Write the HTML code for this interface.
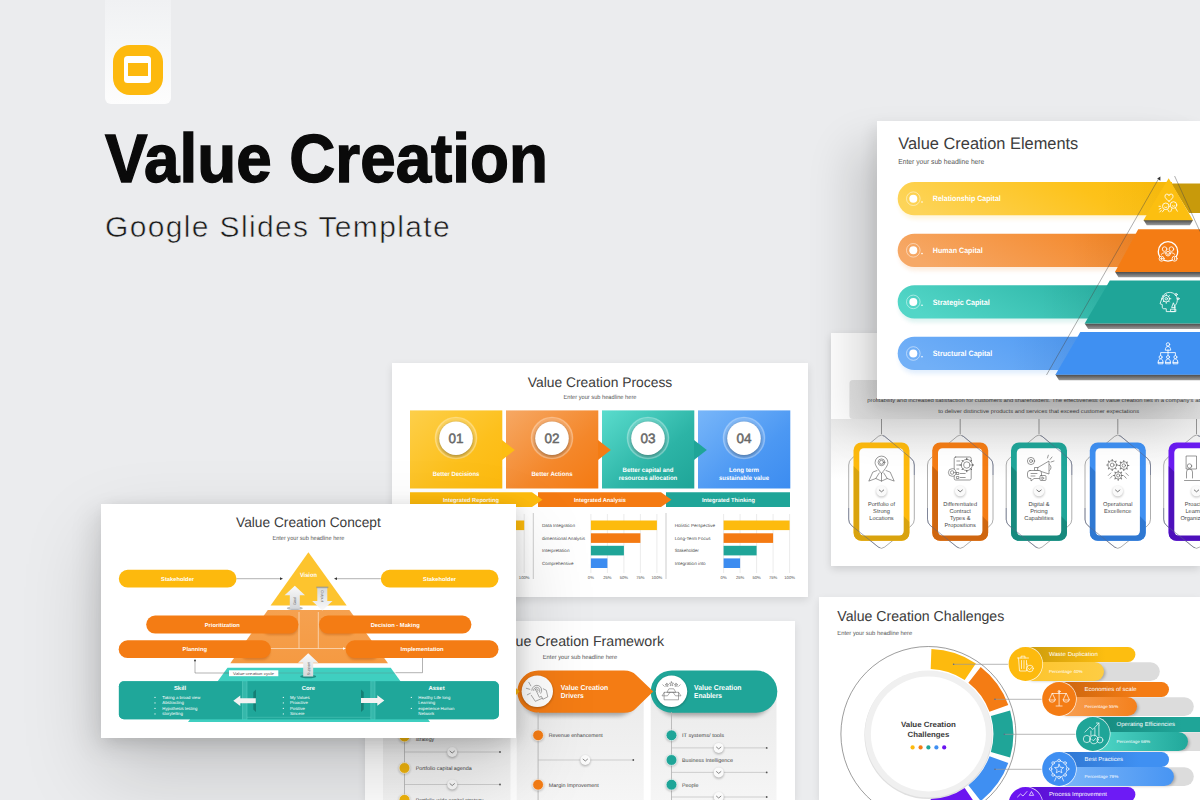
<!DOCTYPE html>
<html lang="en">
<head>
<meta charset="utf-8">
<title>Value Creation Google Slides Template</title>
<style>
*{box-sizing:border-box;margin:0;padding:0}
html,body{width:1200px;height:800px;overflow:hidden;background:#ebecee;font-family:"Liberation Sans",sans-serif}
#stage{position:relative;width:1200px;height:800px;overflow:hidden;background:#ebecee}
.tag{position:absolute;left:105px;top:0;width:66px;height:104px;border-radius:0 0 6px 6px;background:linear-gradient(180deg,#f0f1f3 0%,#f5f6f7 40%,#fdfdfd 100%)}
.gicon{position:absolute;left:113px;top:45px;width:50px;height:50px;border-radius:17px;background:#fdb90e}
.gicon i{position:absolute;left:11px;top:11px;width:27px;height:27px;border-radius:3.5px;background:#fff}
.gicon b{position:absolute;left:14.5px;top:18px;width:20.5px;height:13px;background:#fdb90e}
h1{position:absolute;left:104.5px;top:118.7px;font-size:67.8px;line-height:80px;font-weight:700;color:#0a0a0a;white-space:nowrap;letter-spacing:0;-webkit-text-stroke:1.4px #0a0a0a;transform:scaleX(.9405);transform-origin:0 0}
h2{position:absolute;left:105px;top:209px;font-size:30px;line-height:36px;font-weight:400;color:#1a1a1a;white-space:nowrap;letter-spacing:1.35px;-webkit-text-stroke:.55px #ebecee}
.slide{position:absolute;background:#fff;overflow:hidden}
.slide svg{position:absolute;left:0;top:0;display:block}
svg text{font-family:"Liberation Sans",sans-serif;text-rendering:geometricPrecision}
.shadow{position:absolute}
</style>
</head>
<body>
<div id="stage">
<div class="tag"></div>
<div class="gicon"><i></i><b></b></div>
<h1>Value Creation</h1>
<h2>Google Slides Template</h2>

<!-- STRATEGY SLIDE (behind) -->
<div class="shadow" style="left:831px;top:333px;width:369px;height:233px;box-shadow:0 3px 8px rgba(0,0,0,.13)"></div>
<div class="slide" id="s-strategy" style="left:831px;top:333px;width:369px;height:233px">
<!--STRATEGY-->
<svg width="369" height="233" viewBox="831 333 369 233">
<defs><linearGradient id="sg0" x1="0" y1="0" x2="1" y2="0"><stop offset="0" stop-color="#e4e4e4"/><stop offset=".25" stop-color="#dadada"/><stop offset=".6" stop-color="#d4d4d4"/><stop offset="1" stop-color="#dcdcdc"/></linearGradient><linearGradient id="sgb" x1="0" y1="0" x2="0" y2="1"><stop offset="0" stop-color="#e9e9e9"/><stop offset="1" stop-color="#fff"/></linearGradient><filter id="sbl" x="-50%" y="-50%" width="200%" height="200%"><feGaussianBlur stdDeviation="1.2"/></filter></defs>
<rect x="831" y="419" width="369" height="60" fill="url(#sgb)"/>
<rect x="849.4" y="380" width="380" height="39" rx="3.5" fill="url(#sg0)"/>
<g font-size="5.3" fill="#444" text-anchor="middle"><text x="1038.7" y="402.3" textLength="343" lengthAdjust="spacingAndGlyphs">profitability and increased satisfaction for customers and shareholders. The effectiveness of value creation lies in a company’s ability</text><text x="1038.7" y="413.4" textLength="201" lengthAdjust="spacingAndGlyphs">to deliver distinctive products and services that exceed customer expectations</text></g>
<g>
<line x1="881.5" y1="419" x2="881.5" y2="434" stroke="#555" stroke-width=".6"/>
<path d="M878.4,436.3Q881.5,433.7 884.6,436.3L911.2,458.4Q914.3,461.0 914.3,465.0L914.3,519.3Q914.3,523.3 911.2,525.8L884.6,547.1Q881.5,549.6 878.4,547.1L851.8,525.8Q848.7,523.3 848.7,519.3L848.7,465.0Q848.7,461.0 851.8,458.4Z" fill="none" stroke="#6a6a6a" stroke-width=".55"/>
<clipPath id="sc0"><rect x="853.5" y="442.400" width="56" height="98.400" rx="8"/></clipPath>
<clipPath id="sh0"><rect x="883.0" y="430" width="36" height="45"/><rect x="844.0" y="508" width="36" height="45"/></clipPath>
<rect x="853.5" y="442.400" width="56" height="98.400" rx="8" fill="#fdb90d"/>
<polygon clip-path="url(#sc0)" points="853.5,466 909.5,522 909.5,545 853.5,545" fill="#d9a30e"/>
<rect x="859.3" y="448.300" width="44.400" height="87.200" rx="4.500" fill="#fff"/>
<path clip-path="url(#sh0)" d="M878.4,436.3Q881.5,433.7 884.6,436.3L911.2,458.4Q914.3,461.0 914.3,465.0L914.3,519.3Q914.3,523.3 911.2,525.8L884.6,547.1Q881.5,549.6 878.4,547.1L851.8,525.8Q848.7,523.3 848.7,519.3L848.7,465.0Q848.7,461.0 851.8,458.4Z" fill="none" stroke="#5a6488" stroke-width=".55"/>
<circle cx="881.5" cy="492" r="5.500" fill="#000" opacity=".22" filter="url(#sbl)"/>
<circle cx="881.5" cy="490.900" r="5.300" fill="#fafafa"/>
<path d="M879.3,490l2.200,1.800l2.200-1.800" fill="none" stroke="#444" stroke-width=".7" stroke-linecap="round" stroke-linejoin="round"/>
<text x="881.5" y="506.3" font-size="5.700" fill="#4a4a4a" text-anchor="middle">Portfolio of</text>
<text x="881.5" y="513.2" font-size="5.700" fill="#4a4a4a" text-anchor="middle">Strong</text>
<text x="881.5" y="520.1" font-size="5.700" fill="#4a4a4a" text-anchor="middle">Locations</text>
</g>
<g>
<line x1="960.2" y1="419" x2="960.2" y2="434" stroke="#555" stroke-width=".6"/>
<path d="M957.2,436.3Q960.2,433.7 963.3,436.3L990.0,458.4Q993.0,461.0 993.0,465.0L993.0,519.3Q993.0,523.3 989.9,525.8L963.4,547.1Q960.2,549.6 957.1,547.1L930.6,525.8Q927.5,523.3 927.5,519.3L927.5,465.0Q927.5,461.0 930.5,458.4Z" fill="none" stroke="#6a6a6a" stroke-width=".55"/>
<clipPath id="sc1"><rect x="932.2" y="442.400" width="56" height="98.400" rx="8"/></clipPath>
<clipPath id="sh1"><rect x="961.8" y="430" width="36" height="45"/><rect x="922.8" y="508" width="36" height="45"/></clipPath>
<rect x="932.2" y="442.400" width="56" height="98.400" rx="8" fill="#f47c14"/>
<polygon clip-path="url(#sc1)" points="932.2,466 988.2,522 988.2,545 932.2,545" fill="#cf660f"/>
<rect x="938.0" y="448.300" width="44.400" height="87.200" rx="4.500" fill="#fff"/>
<path clip-path="url(#sh1)" d="M957.2,436.3Q960.2,433.7 963.3,436.3L990.0,458.4Q993.0,461.0 993.0,465.0L993.0,519.3Q993.0,523.3 989.9,525.8L963.4,547.1Q960.2,549.6 957.1,547.1L930.6,525.8Q927.5,523.3 927.5,519.3L927.5,465.0Q927.5,461.0 930.5,458.4Z" fill="none" stroke="#5a6488" stroke-width=".55"/>
<circle cx="960.2" cy="492" r="5.500" fill="#000" opacity=".22" filter="url(#sbl)"/>
<circle cx="960.2" cy="490.900" r="5.300" fill="#fafafa"/>
<path d="M958.0,490l2.200,1.800l2.200-1.800" fill="none" stroke="#444" stroke-width=".7" stroke-linecap="round" stroke-linejoin="round"/>
<text x="960.2" y="506.3" font-size="5.700" fill="#4a4a4a" text-anchor="middle">Differentiated</text>
<text x="960.2" y="513.2" font-size="5.700" fill="#4a4a4a" text-anchor="middle">Contract</text>
<text x="960.2" y="520.1" font-size="5.700" fill="#4a4a4a" text-anchor="middle">Types &amp;</text>
<text x="960.2" y="527.0" font-size="5.700" fill="#4a4a4a" text-anchor="middle">Propositions</text>
</g>
<g>
<line x1="1039.0" y1="419" x2="1039.0" y2="434" stroke="#555" stroke-width=".6"/>
<path d="M1035.9,436.3Q1039.0,433.7 1042.1,436.3L1068.7,458.4Q1071.8,461.0 1071.8,465.0L1071.8,519.3Q1071.8,523.3 1068.7,525.8L1042.1,547.1Q1039.0,549.6 1035.9,547.1L1009.3,525.8Q1006.2,523.3 1006.2,519.3L1006.2,465.0Q1006.2,461.0 1009.3,458.4Z" fill="none" stroke="#6a6a6a" stroke-width=".55"/>
<clipPath id="sc2"><rect x="1011.0" y="442.400" width="56" height="98.400" rx="8"/></clipPath>
<clipPath id="sh2"><rect x="1040.5" y="430" width="36" height="45"/><rect x="1001.5" y="508" width="36" height="45"/></clipPath>
<rect x="1011.0" y="442.400" width="56" height="98.400" rx="8" fill="#1fa598"/>
<polygon clip-path="url(#sc2)" points="1011.0,466 1067.0,522 1067.0,545 1011.0,545" fill="#178a7e"/>
<rect x="1016.8" y="448.300" width="44.400" height="87.200" rx="4.500" fill="#fff"/>
<path clip-path="url(#sh2)" d="M1035.9,436.3Q1039.0,433.7 1042.1,436.3L1068.7,458.4Q1071.8,461.0 1071.8,465.0L1071.8,519.3Q1071.8,523.3 1068.7,525.8L1042.1,547.1Q1039.0,549.6 1035.9,547.1L1009.3,525.8Q1006.2,523.3 1006.2,519.3L1006.2,465.0Q1006.2,461.0 1009.3,458.4Z" fill="none" stroke="#5a6488" stroke-width=".55"/>
<circle cx="1039.0" cy="492" r="5.500" fill="#000" opacity=".22" filter="url(#sbl)"/>
<circle cx="1039.0" cy="490.900" r="5.300" fill="#fafafa"/>
<path d="M1036.8,490l2.200,1.800l2.200-1.800" fill="none" stroke="#444" stroke-width=".7" stroke-linecap="round" stroke-linejoin="round"/>
<text x="1039.0" y="506.3" font-size="5.700" fill="#4a4a4a" text-anchor="middle">Digital &amp;</text>
<text x="1039.0" y="513.2" font-size="5.700" fill="#4a4a4a" text-anchor="middle">Pricing</text>
<text x="1039.0" y="520.1" font-size="5.700" fill="#4a4a4a" text-anchor="middle">Capabilities</text>
</g>
<g>
<line x1="1117.8" y1="419" x2="1117.8" y2="434" stroke="#555" stroke-width=".6"/>
<path d="M1114.7,436.3Q1117.8,433.7 1120.8,436.3L1147.5,458.4Q1150.5,461.0 1150.5,465.0L1150.5,519.3Q1150.5,523.3 1147.4,525.8L1120.9,547.1Q1117.8,549.6 1114.6,547.1L1088.1,525.8Q1085.0,523.3 1085.0,519.3L1085.0,465.0Q1085.0,461.0 1088.0,458.4Z" fill="none" stroke="#6a6a6a" stroke-width=".55"/>
<clipPath id="sc3"><rect x="1089.8" y="442.400" width="56" height="98.400" rx="8"/></clipPath>
<clipPath id="sh3"><rect x="1119.2" y="430" width="36" height="45"/><rect x="1080.2" y="508" width="36" height="45"/></clipPath>
<rect x="1089.8" y="442.400" width="56" height="98.400" rx="8" fill="#3f90f2"/>
<polygon clip-path="url(#sc3)" points="1089.8,466 1145.8,522 1145.8,545 1089.8,545" fill="#2f78d2"/>
<rect x="1095.5" y="448.300" width="44.400" height="87.200" rx="4.500" fill="#fff"/>
<path clip-path="url(#sh3)" d="M1114.7,436.3Q1117.8,433.7 1120.8,436.3L1147.5,458.4Q1150.5,461.0 1150.5,465.0L1150.5,519.3Q1150.5,523.3 1147.4,525.8L1120.9,547.1Q1117.8,549.6 1114.6,547.1L1088.1,525.8Q1085.0,523.3 1085.0,519.3L1085.0,465.0Q1085.0,461.0 1088.0,458.4Z" fill="none" stroke="#5a6488" stroke-width=".55"/>
<circle cx="1117.8" cy="492" r="5.500" fill="#000" opacity=".22" filter="url(#sbl)"/>
<circle cx="1117.8" cy="490.900" r="5.300" fill="#fafafa"/>
<path d="M1115.5,490l2.200,1.800l2.200-1.800" fill="none" stroke="#444" stroke-width=".7" stroke-linecap="round" stroke-linejoin="round"/>
<text x="1117.8" y="506.3" font-size="5.700" fill="#4a4a4a" text-anchor="middle">Operational</text>
<text x="1117.8" y="513.2" font-size="5.700" fill="#4a4a4a" text-anchor="middle">Excellence</text>
</g>
<g>
<line x1="1196.5" y1="419" x2="1196.5" y2="434" stroke="#555" stroke-width=".6"/>
<path d="M1193.4,436.3Q1196.5,433.7 1199.6,436.3L1226.2,458.4Q1229.3,461.0 1229.3,465.0L1229.3,519.3Q1229.3,523.3 1226.2,525.8L1199.6,547.1Q1196.5,549.6 1193.4,547.1L1166.8,525.8Q1163.7,523.3 1163.7,519.3L1163.7,465.0Q1163.7,461.0 1166.8,458.4Z" fill="none" stroke="#6a6a6a" stroke-width=".55"/>
<clipPath id="sc4"><rect x="1168.5" y="442.400" width="56" height="98.400" rx="8"/></clipPath>
<clipPath id="sh4"><rect x="1198.0" y="430" width="36" height="45"/><rect x="1159.0" y="508" width="36" height="45"/></clipPath>
<rect x="1168.5" y="442.400" width="56" height="98.400" rx="8" fill="#6a1bf0"/>
<polygon clip-path="url(#sc4)" points="1168.5,466 1224.5,522 1224.5,545 1168.5,545" fill="#4d10bb"/>
<rect x="1174.3" y="448.300" width="44.400" height="87.200" rx="4.500" fill="#fff"/>
<path clip-path="url(#sh4)" d="M1193.4,436.3Q1196.5,433.7 1199.6,436.3L1226.2,458.4Q1229.3,461.0 1229.3,465.0L1229.3,519.3Q1229.3,523.3 1226.2,525.8L1199.6,547.1Q1196.5,549.6 1193.4,547.1L1166.8,525.8Q1163.7,523.3 1163.7,519.3L1163.7,465.0Q1163.7,461.0 1166.8,458.4Z" fill="none" stroke="#5a6488" stroke-width=".55"/>
<circle cx="1196.5" cy="492" r="5.500" fill="#000" opacity=".22" filter="url(#sbl)"/>
<circle cx="1196.5" cy="490.900" r="5.300" fill="#fafafa"/>
<path d="M1194.3,490l2.200,1.800l2.200-1.800" fill="none" stroke="#444" stroke-width=".7" stroke-linecap="round" stroke-linejoin="round"/>
<text x="1196.5" y="506.3" font-size="5.700" fill="#4a4a4a" text-anchor="middle">Proactive</text>
<text x="1196.5" y="513.2" font-size="5.700" fill="#4a4a4a" text-anchor="middle">Learning</text>
<text x="1196.5" y="520.1" font-size="5.700" fill="#4a4a4a" text-anchor="middle">Organization</text>
</g>
<g fill="none" stroke="#555" stroke-width=".6" stroke-linecap="round" stroke-linejoin="round">
<path d="M881.5,473.500c-4.200-5.200-6.400-8.200-6.400-11a6.400,6.400 0 0 1 12.800,0c0,2.800-2.200,5.800-6.400,11z"/>
<circle cx="881.5" cy="462.300" r="3.400"/><circle cx="881.5" cy="462.300" r="2"/>
<path d="M877.0,470.500l-4.200,1.600l-4,9l7-2.600l5.700,2.600l5.700-2.600l7,2.600l-4-9l-4.200-1.600M881.5,474v7.100M875.8,478.500l3.400-5.500M887.2,478.500l-3.400-5.500"/>
<rect x="954.2" y="457" width="17" height="23" rx="1.500"/>
<path d="M956.8,461h3M956.8,465h3M956.8,469h2M956.8,472.500h2v2h-2zM956.8,476.500h2v2h-2zM960.2,473.500h5M960.2,477.500h5"/>
<circle cx="966.8" cy="465" r="5.600" fill="#fff"/><circle cx="966.8" cy="465" r="3.200"/>
<path d="M966.8,458.200v1.400M966.8,470.400v1.400M960.0,465h1.400M972.1,465h1.400M962.0,460.300l1,1M970.5,468.700l1,1M971.5,460.300l-1,1M962.0,469.700l1-1" stroke-width="1"/>
<circle cx="952.2" cy="472.500" r="3.800" fill="#fff"/><circle cx="952.2" cy="472.500" r="1.800"/>
<circle cx="1031.0" cy="461" r="3.600"/><circle cx="1031.0" cy="461" r="1.500"/>
<path d="M1038.0,467.500l11-6.500v13l-11-3.500zM1038.0,467.500h-3.500v3h3.500M1049.5,464.500a3.500,3.500 0 0 1 0,6"/>
<path d="M1030.0,470.500h9a2.500,2.500 0 0 1 2.500,2.500v3a2.500,2.500 0 0 1 -2.500,2.500h-5l-3,2.500v-2.500h-1a2.500,2.500 0 0 1 -2.500-2.500v-3a2.500,2.500 0 0 1 2.500-2.500z" fill="#fff"/>
<path d="M1031.0,473.500h6M1031.0,476h4M1050.0,459.500l2-2.500M1051.0,462l3-1M1047.5,458l.8-2.800"/>
<rect x="1040.0" y="475.500" width="6" height="5" rx="1" fill="#fff"/><path d="M1042.2,477l2,1.200l-2,1.200z"/>
<circle cx="1112.2" cy="465.0" r="4.3"/><circle cx="1112.2" cy="465.0" r="1.9"/><path d="M1116.5,465.0L1117.8,465.0M1115.3,468.0L1116.1,468.9M1112.2,469.3L1112.2,470.5M1109.2,468.0L1108.4,468.9M1108.0,465.0L1106.8,465.0M1109.2,462.0L1108.4,461.1M1112.2,460.7L1112.2,459.5M1115.3,462.0L1116.1,461.1" stroke-width="1.100" stroke="#777"/>
<circle cx="1123.8" cy="465.5" r="3.8"/><circle cx="1123.8" cy="465.5" r="1.7"/><path d="M1127.5,465.5L1128.8,465.5M1126.4,468.2L1127.3,469.0M1123.8,469.3L1123.8,470.5M1121.1,468.2L1120.2,469.0M1120.0,465.5L1118.8,465.5M1121.1,462.8L1120.2,462.0M1123.8,461.7L1123.8,460.5M1126.4,462.8L1127.3,462.0" stroke-width="1.100" stroke="#777"/>
<circle cx="1118.2" cy="475.5" r="3.6"/><circle cx="1118.2" cy="475.5" r="1.6"/><path d="M1121.8,475.5L1123.0,475.5M1120.8,478.0L1121.6,478.9M1118.2,479.1L1118.2,480.3M1115.7,478.0L1114.9,478.9M1114.7,475.5L1113.5,475.5M1115.7,473.0L1114.9,472.1M1118.2,471.9L1118.2,470.7M1120.8,473.0L1121.6,472.1" stroke-width="1.100" stroke="#777"/>
<path d="M1110.8,473l-2.500,2.500M1112.2,476l-2,2.200M1125.8,473l2.500,2.500M1124.2,476l2,2.200"/>
<rect x="1186.5" y="456" width="10" height="13"/><circle cx="1189.5" cy="466" r="2.200"/><path d="M1186.5,478v-6a3,3 0 0 1 6,0v6M1184.5,480.500h20"/>
</g>
</svg>
<!--/STRATEGY-->
</div>

<!-- ELEMENTS SLIDE -->
<div class="shadow" style="left:877px;top:121px;width:323px;height:278px;box-shadow:-26px 26px 42px rgba(0,0,0,.14),-4px 6px 14px rgba(0,0,0,.09)"></div>
<div class="slide" id="s-elements" style="left:877px;top:121px;width:323px;height:278px">
<!--ELEMENTS-->
<svg width="323" height="278" viewBox="877 121 323 278">
<defs>
<linearGradient id="eg1" x1="0" y1="0.5" x2="1" y2="0.3"><stop offset="0" stop-color="#fdd458"/><stop offset=".7" stop-color="#fdc21a"/><stop offset="1" stop-color="#fcbd0c"/></linearGradient>
<linearGradient id="eg2" x1="0" y1="0.5" x2="1" y2="0.3"><stop offset="0" stop-color="#f6a866"/><stop offset=".7" stop-color="#f4882a"/><stop offset="1" stop-color="#f47d16"/></linearGradient>
<linearGradient id="eg3" x1="0" y1="0.5" x2="1" y2="0.3"><stop offset="0" stop-color="#52d6c7"/><stop offset=".7" stop-color="#2bb3a5"/><stop offset="1" stop-color="#1fa598"/></linearGradient>
<linearGradient id="eg4" x1="0" y1="0.5" x2="1" y2="0.3"><stop offset="0" stop-color="#72b0f7"/><stop offset=".7" stop-color="#4c98f3"/><stop offset="1" stop-color="#3f90f2"/></linearGradient>
<linearGradient id="egf" x1="0" y1="0" x2="0" y2="1"><stop offset="0" stop-color="#4a4a4a"/><stop offset="1" stop-color="#9a9a9a"/></linearGradient>
<linearGradient id="esh" x1="0" y1="0" x2="1" y2="0"><stop offset="0" stop-color="#000" stop-opacity="0"/><stop offset="1" stop-color="#000" stop-opacity=".16"/></linearGradient>
<filter id="ebl" x="-5%" y="-30%" width="110%" height="170%"><feGaussianBlur stdDeviation="2.2"/></filter>
</defs>
<text x="898.3" y="148.8" font-size="16.6" fill="#3c3c3c" textLength="180" lengthAdjust="spacingAndGlyphs">Value Creation Elements</text>
<text x="898.3" y="164" font-size="7.2" fill="#555" textLength="86" lengthAdjust="spacingAndGlyphs">Enter your sub headline here</text>
<!-- soft glows -->
<g filter="url(#ebl)" opacity=".16">
<rect x="899" y="186" width="260" height="33" rx="16.5" fill="#fdc21a"/>
<rect x="899" y="237.6" width="240" height="33" rx="16.5" fill="#f4882a"/>
<rect x="899" y="289.2" width="210" height="33" rx="16.5" fill="#2bb3a5"/>
<rect x="899" y="340.8" width="180" height="33" rx="16.5" fill="#4c98f3"/>
</g>
<!-- bars -->
<path d="M914.35,182H1172V215.3H914.35A16.65,16.65 0 0 1 914.35,182Z" fill="url(#eg1)"/>
<rect x="897.7" y="233.7" width="330" height="33.3" rx="16.65" fill="url(#eg2)"/>
<rect x="897.7" y="285.2" width="330" height="33.3" rx="16.65" fill="url(#eg3)"/>
<rect x="897.7" y="336.8" width="330" height="33.3" rx="16.65" fill="url(#eg4)"/>
<!-- shading near pyramid -->
<polygon points="1100,182 1166.5,182 1146.5,215.3 1100,215.3" fill="url(#esh)" opacity=".18"/>
<polygon points="1070,233.7 1136,233.7 1118,267 1070,267" fill="url(#esh)" opacity=".28"/>
<polygon points="1040,285.2 1107,285.2 1088,318.5 1040,318.5" fill="url(#esh)" opacity=".28"/>
<polygon points="1010,336.8 1077.5,336.8 1058.5,370.1 1010,370.1" fill="url(#esh)" opacity=".28"/>
<!-- bullets + labels -->
<g fill="#fff">
<circle cx="913.3" cy="198.7" r="4"/><circle cx="922" cy="202" r=".8"/>
<circle cx="913.3" cy="250.3" r="4"/><circle cx="922" cy="253.6" r=".8"/>
<circle cx="913.3" cy="301.9" r="4"/><circle cx="922" cy="305.2" r=".8"/>
<circle cx="913.3" cy="353.5" r="4"/><circle cx="922" cy="356.8" r=".8"/>
</g>
<g fill="none" stroke="#fff" stroke-width=".7" opacity=".7">
<circle cx="913.3" cy="198.7" r="6.8"/><circle cx="913.3" cy="250.3" r="6.8"/><circle cx="913.3" cy="301.9" r="6.8"/><circle cx="913.3" cy="353.5" r="6.8"/>
</g>
<g font-size="7.8" font-weight="700" fill="#fff">
<text x="932.8" y="201.4" textLength="68" lengthAdjust="spacingAndGlyphs">Relationship Capital</text>
<text x="932.8" y="253" textLength="50" lengthAdjust="spacingAndGlyphs">Human Capital</text>
<text x="932.8" y="304.6" textLength="57" lengthAdjust="spacingAndGlyphs">Strategic Capital</text>
<text x="932.8" y="356.2" textLength="59.5" lengthAdjust="spacingAndGlyphs">Structural Capital</text>
</g>
<!-- pyramid back band -->
<polygon points="1171,183.5 1200,183.5 1200,213 1189,213" fill="#c89a0b"/>
<!-- 3d faces -->
<polygon points="1143.5,220 1193,220 1190,225.2 1146.8,225.2" fill="url(#egf)"/>
<polygon points="1115,271.8 1200,271.8 1200,277.2 1118.5,277.2" fill="url(#egf)"/>
<polygon points="1084.7,323.4 1200,323.4 1200,329 1088.2,329" fill="url(#egf)"/>
<polygon points="1055.4,374.6 1200,374.6 1200,380.2 1059,380.2" fill="url(#egf)"/>
<!-- tiers -->
<polygon points="1168.7,178.2 1193,220.2 1143.5,220.2" fill="#fcbf10"/>
<polygon points="1138.2,229.2 1200,229.2 1200,272 1115,272" fill="#f47c14"/>
<polygon points="1109.8,280.6 1200,280.6 1200,323.6 1084.7,323.6" fill="#1fa598"/>
<polygon points="1080.3,332 1200,332 1200,374.8 1055.4,374.8" fill="#3f90f2"/>
<!-- outline lines -->
<g stroke="#4a4a4a" stroke-width=".45" fill="none">
<line x1="1159" y1="178" x2="1046.5" y2="375"/>
<line x1="1174.6" y1="176" x2="1200" y2="231.6"/>
</g>
<polygon points="1157.2,178.6 1160.4,176.6 1160.4,180.8" fill="#333"/>
<!-- icons -->
<g fill="none" stroke="#fff" stroke-width=".75" stroke-linecap="round" stroke-linejoin="round">
<g transform="translate(0,-3.3)" stroke-width=".85">
<path d="M1169,204.5c-2.6-1.8-4-3.2-4-4.8a2,2 0 0 1 4-.6a2,2 0 0 1 4,.6c0,1.600-1.400,3-4,4.800z"/>
<circle cx="1165.800" cy="209.600" r="3.300"/><circle cx="1173.500" cy="208.300" r="3.300"/>
<path d="M1164.200,213l-1.800,2.200M1167.800,213l1.400,2.200M1172,211.800l-1.200,3M1175.500,211.300l1.800,3.200M1161,211.500l-1.800,1M1161.400,213.500l-1.600,1.800M1160.400,209.600h-1.400"/>
<path d="M1164.600,210.500q1.200,1 2.400,0M1172.400,209.200q1.200,1 2.400,0"/>
</g><g transform="translate(0,.9)" stroke-width=".85">
<circle cx="1168" cy="250.500" r="9.700" stroke-width="1.300"/>
<circle cx="1164.600" cy="248.200" r="2.300"/><circle cx="1171.400" cy="248.200" r="2.300"/><circle cx="1168" cy="252.800" r="2.300"/>
<path d="M1161.200,253.500q3.400-3.600 6.800,0M1168,253.500q3.400-3.600 6.800,0"/>
<circle cx="1161.600" cy="257.800" r="2.500" fill="#f47c14"/><circle cx="1174.600" cy="257.800" r="2.500" fill="#f47c14"/>
<path d="M1161.600,256.600v2.400M1160.400,257.800h2.400M1174.600,256.600v2.400"/>
</g><g transform="translate(1169,300.6) scale(1.1) translate(-1169,-298.5)" stroke-width=".75">
<path d="M1162.500,296.500c1-4 4.500-5.800 8-5.400c4,.5 6.400,3.600 6,7.600c-.2,2-1.200,3.400-2.200,4.600v5.200h-7.800v-2.600h-2.200c-1,0-1.400-.6-1.400-1.600v-2.200l-1.700-.6z"/>
<circle cx="1166.500" cy="296.800" r="3"/><circle cx="1166.500" cy="296.800" r="1.100"/>
<path d="M1166.500,292.600v1.200M1166.500,299.800v1.200M1162.300,296.800h1.200M1169.500,296.800h1.200M1163.600,293.900l.8,.8M1168.600,298.900l.8,.8M1169.400,293.900l-.8,.8M1163.600,299.700l.8-.8"/>
<path d="M1171.500,304.500l1.500-4l1.500,4zM1170.800,306.300h4.400v2.200h-4.400z"/>
<circle cx="1175.500" cy="293" r="1"/><circle cx="1177.300" cy="296.800" r=".9"/>
</g><g transform="translate(0,.8)" stroke-width=".85">
<circle cx="1168" cy="343.600" r="1.700"/>
<path d="M1165.300,349c0-2.200 1.200-3.300 2.700-3.300s2.700,1.100 2.700,3.300z"/>
<path d="M1168,349v2.800M1160.600,354.600v-2.800h14.800v2.800M1168,351.800v2.800"/>
<circle cx="1160.600" cy="356.300" r="1.500"/><circle cx="1168" cy="356.300" r="1.500"/><circle cx="1175.400" cy="356.300" r="1.500"/>
<path d="M1158.200,361.400c0-2.200 1-3.300 2.400-3.300s2.400,1.100 2.400,3.300zM1165.600,361.400c0-2.200 1-3.300 2.400-3.300s2.400,1.100 2.400,3.300zM1173,361.400c0-2.200 1-3.300 2.400-3.300s2.400,1.100 2.400,3.300z"/>
<path d="M1158.200,361.400v1.600h4.800v-1.600M1165.600,361.400v1.600h4.800v-1.600M1173,361.400v1.600h4.800v-1.600"/>
</g></g>
</svg>

<!--/ELEMENTS-->
</div>

<!-- FRAMEWORK SLIDE -->
<div class="shadow" style="left:365px;top:621px;width:430px;height:179px;box-shadow:0 3px 8px rgba(0,0,0,.09)"></div>
<div class="slide" id="s-framework" style="left:365px;top:621px;width:430px;height:179px">
<!--FRAMEWORK-->
<svg width="430" height="179" viewBox="365 621 430 179">
<defs>
<linearGradient id="fgc" x1="0" y1="0" x2="0" y2="1"><stop offset="0" stop-color="#ebebeb"/><stop offset=".5" stop-color="#f0f0f0"/><stop offset="1" stop-color="#f6f6f6"/></linearGradient>
<filter id="fbl" x="-20%" y="-40%" width="140%" height="200%"><feGaussianBlur stdDeviation="2"/></filter>
<filter id="fbs" x="-60%" y="-60%" width="220%" height="220%"><feGaussianBlur stdDeviation="1.1"/></filter>
</defs>
<text x="580" y="645.6" font-size="14.2" fill="#3c3c3c" text-anchor="middle" textLength="168" lengthAdjust="spacingAndGlyphs">Value Creation Framework</text>
<text x="580" y="658.7" font-size="6" fill="#555" text-anchor="middle" textLength="74.600" lengthAdjust="spacingAndGlyphs">Enter your sub headline here</text>
<rect x="383.0" y="692" width="127.5" height="113" fill="url(#fgc)"/>
<rect x="516.7" y="692" width="127.0" height="113" fill="url(#fgc)"/>
<rect x="650.7" y="692" width="125.8" height="113" fill="url(#fgc)"/>
<g filter="url(#fbl)" opacity=".3" fill="#000"><rect x="388" y="676" width="120" height="40" rx="20"/><rect x="522" y="676" width="115" height="40" rx="20"/><rect x="656" y="676" width="116" height="40" rx="20"/></g>
<rect x="650.700" y="670.500" width="126.600" height="42.200" rx="21.100" fill="#1fa598"/>
<path d="M538.4,670.5H624.0Q632.0,670.5 636.0,675.0L653.3,691.6L636.0,708.2Q632.0,712.7 624.0,712.7H538.4A21.1,21.1 0 0 1 538.4,670.5Z" fill="#f47c14"/>
<path d="M404.7,670.5H490.3Q498.3,670.5 502.3,675.0L519.6,691.6L502.3,708.2Q498.3,712.7 490.3,712.7H404.7A21.1,21.1 0 0 1 404.7,670.5Z" fill="#fdb90d"/>
<circle cx="403.6" cy="692.300" r="16" fill="#000" opacity=".25" filter="url(#fbs)"/>
<circle cx="403.6" cy="691.300" r="15.700" fill="#fff"/>
<circle cx="537.3" cy="692.300" r="16" fill="#000" opacity=".25" filter="url(#fbs)"/>
<circle cx="537.3" cy="691.300" r="15.700" fill="#fff"/>
<circle cx="671.5" cy="692.300" r="16" fill="#000" opacity=".25" filter="url(#fbs)"/>
<circle cx="671.5" cy="691.300" r="15.700" fill="#fff"/>
<g font-size="7.200" font-weight="700" fill="#fff"><text x="560.800" y="689.800" textLength="47.500" lengthAdjust="spacingAndGlyphs">Value Creation</text><text x="560.800" y="698.400" textLength="23" lengthAdjust="spacingAndGlyphs">Drivers</text><text x="694" y="689.800" textLength="47.500" lengthAdjust="spacingAndGlyphs">Value Creation</text><text x="694" y="698.400" textLength="28" lengthAdjust="spacingAndGlyphs">Enablers</text><text x="427" y="689.800" textLength="47.500" lengthAdjust="spacingAndGlyphs">Value Creation</text><text x="427" y="698.400" textLength="26" lengthAdjust="spacingAndGlyphs">Strategy</text></g>
<g fill="none" stroke="#666" stroke-width=".55" stroke-linecap="round" stroke-linejoin="round">
<path d="M531.8,690.3a5,5 0 1 1 9,3M533.5,690.3a3.200,3.200 0 1 1 5.800,2M535.1,690.1a1.500,1.500 0 1 1 2.600,1.200"/>
<path d="M535.8,689.8l3.500,7.500l2,-1l1.500,3l5-2.500l-1.500-6.500l-3-1.500"/>
<path d="M530.8,685.8l-2-3.500M529.8,689.3l-3.500-1M530.3,693.3l-3,1.500"/>
<path d="M531.3,695.3l4,6l7-3"/>
<path d="M664.5,692.3h14v7.500h-14zM664.5,692.3l-2.500,3.500h5.500l2.500-3.500M678.5,692.3l2.500,3.500h-5.500l-2.500-3.500M667.3,692.3h8.500l-2-3.500h-4.500z"/>
<path d="M671.5,681.8l.6,1.400l1.500,.1l-1.200,1l.4,1.500l-1.300-.8l-1.300,.8l.4-1.500l-1.200-1l1.500-.1zM666.9,683.3l.5,1.100l1.200,.1l-.9,.8l.3,1.200l-1.100-.7l-1.100,.7l.3-1.200l-.9-.8l1.200-.1zM676.1,683.3l.5,1.100l1.200,.1l-.9,.8l.3,1.200l-1.100-.7l-1.100,.7l.3-1.200l-.9-.8l1.200-.1z"/>
<path d="M664.3,686.3l-1.500-1.500M678.7,686.3l1.500-1.500"/>
</g>
<line x1="404.500" y1="712" x2="404.500" y2="800" stroke="#b0b0b0" stroke-width=".8"/>
<line x1="404.5" y1="752.0" x2="500.0" y2="752.0" stroke="#b5b5b5" stroke-width=".6"/><circle cx="500.0" cy="752.0" r=".9" fill="#555"/>
<circle cx="452.2" cy="753.0" r="5.300" fill="#000" opacity=".25" filter="url(#fbs)"/><circle cx="452.2" cy="752.0" r="5" fill="#fafafa"/><path d="M450.0,751.2l2.200,1.800l2.200-1.800" fill="none" stroke="#555" stroke-width=".7" stroke-linecap="round" stroke-linejoin="round"/>
<line x1="404.5" y1="784.5" x2="500.0" y2="784.5" stroke="#b5b5b5" stroke-width=".6"/><circle cx="500.0" cy="784.5" r=".9" fill="#555"/>
<circle cx="452.2" cy="785.5" r="5.300" fill="#000" opacity=".25" filter="url(#fbs)"/><circle cx="452.2" cy="784.5" r="5" fill="#fafafa"/><path d="M450.0,783.7l2.200,1.800l2.200-1.800" fill="none" stroke="#555" stroke-width=".7" stroke-linecap="round" stroke-linejoin="round"/>
<circle cx="404.5" cy="737.3" r="6" fill="#000" opacity=".2" filter="url(#fbs)"/><circle cx="404.5" cy="736.5" r="5.400" fill="#f0b40c" stroke="#fff" stroke-opacity=".7" stroke-width=".9"/>
<circle cx="404.5" cy="768.8" r="6" fill="#000" opacity=".2" filter="url(#fbs)"/><circle cx="404.5" cy="768.0" r="5.400" fill="#f0b40c" stroke="#fff" stroke-opacity=".7" stroke-width=".9"/>
<circle cx="404.5" cy="800.6" r="6" fill="#000" opacity=".2" filter="url(#fbs)"/><circle cx="404.5" cy="799.8" r="5.400" fill="#f0b40c" stroke="#fff" stroke-opacity=".7" stroke-width=".9"/>
<line x1="538.100" y1="712" x2="538.100" y2="800" stroke="#b0b0b0" stroke-width=".8"/>
<line x1="538.1" y1="760.0" x2="633.3" y2="760.0" stroke="#b5b5b5" stroke-width=".6"/><circle cx="633.3" cy="760.0" r=".9" fill="#555"/>
<circle cx="585.3" cy="761.0" r="5.300" fill="#000" opacity=".25" filter="url(#fbs)"/><circle cx="585.3" cy="760.0" r="5" fill="#fafafa"/><path d="M583.1,759.2l2.200,1.800l2.200-1.800" fill="none" stroke="#555" stroke-width=".7" stroke-linecap="round" stroke-linejoin="round"/>
<circle cx="538.1" cy="736.1" r="6" fill="#000" opacity=".2" filter="url(#fbs)"/><circle cx="538.1" cy="735.3" r="5.400" fill="#f47c14" stroke="#fff" stroke-opacity=".7" stroke-width=".9"/>
<circle cx="538.1" cy="785.5" r="6" fill="#000" opacity=".2" filter="url(#fbs)"/><circle cx="538.1" cy="784.7" r="5.400" fill="#f47c14" stroke="#fff" stroke-opacity=".7" stroke-width=".9"/>
<line x1="671.500" y1="712" x2="671.500" y2="800" stroke="#b0b0b0" stroke-width=".8"/>
<line x1="671.5" y1="747.9" x2="766.7" y2="747.9" stroke="#b5b5b5" stroke-width=".6"/><circle cx="766.7" cy="747.9" r=".9" fill="#555"/>
<circle cx="718.7" cy="748.9" r="5.300" fill="#000" opacity=".25" filter="url(#fbs)"/><circle cx="718.7" cy="747.9" r="5" fill="#fafafa"/><path d="M716.5,747.1l2.200,1.800l2.200-1.800" fill="none" stroke="#555" stroke-width=".7" stroke-linecap="round" stroke-linejoin="round"/>
<line x1="671.5" y1="772.4" x2="766.7" y2="772.4" stroke="#b5b5b5" stroke-width=".6"/><circle cx="766.7" cy="772.4" r=".9" fill="#555"/>
<circle cx="718.7" cy="773.4" r="5.300" fill="#000" opacity=".25" filter="url(#fbs)"/><circle cx="718.7" cy="772.4" r="5" fill="#fafafa"/><path d="M716.5,771.6l2.200,1.800l2.200-1.800" fill="none" stroke="#555" stroke-width=".7" stroke-linecap="round" stroke-linejoin="round"/>
<line x1="671.5" y1="797.0" x2="766.7" y2="797.0" stroke="#b5b5b5" stroke-width=".6"/><circle cx="766.7" cy="797.0" r=".9" fill="#555"/>
<circle cx="718.7" cy="798.0" r="5.300" fill="#000" opacity=".25" filter="url(#fbs)"/><circle cx="718.7" cy="797.0" r="5" fill="#fafafa"/><path d="M716.5,796.2l2.200,1.800l2.200-1.800" fill="none" stroke="#555" stroke-width=".7" stroke-linecap="round" stroke-linejoin="round"/>
<circle cx="671.5" cy="736.1" r="6" fill="#000" opacity=".2" filter="url(#fbs)"/><circle cx="671.5" cy="735.3" r="5.400" fill="#1fa598" stroke="#fff" stroke-opacity=".7" stroke-width=".9"/>
<circle cx="671.5" cy="760.8" r="6" fill="#000" opacity=".2" filter="url(#fbs)"/><circle cx="671.5" cy="760.0" r="5.400" fill="#1fa598" stroke="#fff" stroke-opacity=".7" stroke-width=".9"/>
<circle cx="671.5" cy="785.5" r="6" fill="#000" opacity=".2" filter="url(#fbs)"/><circle cx="671.5" cy="784.7" r="5.400" fill="#1fa598" stroke="#fff" stroke-opacity=".7" stroke-width=".9"/>
<g font-size="5.200" fill="#444"><text x="415.700" y="740.500">strategy</text><text x="415.700" y="769.800" textLength="56" lengthAdjust="spacingAndGlyphs">Portfolio capital agenda</text><text x="415.700" y="801.800">Portfolio-wide capital strategy</text><text x="548.800" y="737.200" textLength="54" lengthAdjust="spacingAndGlyphs">Revenue enhancement</text><text x="548.800" y="786.500" textLength="50" lengthAdjust="spacingAndGlyphs">Margin Improvement</text><text x="682" y="737.200" textLength="42" lengthAdjust="spacingAndGlyphs">IT systems/ tools</text><text x="682" y="761.800" textLength="51" lengthAdjust="spacingAndGlyphs">Business Intelligence</text><text x="682" y="786.500" textLength="16.500" lengthAdjust="spacingAndGlyphs">People</text></g>
</svg>
<!--/FRAMEWORK-->
</div>

<!-- PROCESS SLIDE -->
<div class="shadow" style="left:392px;top:363px;width:416px;height:234px;box-shadow:0 3px 8px rgba(0,0,0,.10)"></div>
<div class="slide" id="s-process" style="left:392px;top:363px;width:416px;height:234px">
<!--PROCESS-->
<svg width="416" height="234" viewBox="392 363 416 234">
<defs>
<linearGradient id="pg1" x1="0" y1="0" x2="1" y2="1"><stop offset="0" stop-color="#fdcf4a"/><stop offset=".6" stop-color="#fdc01c"/><stop offset="1" stop-color="#fdb90d"/></linearGradient>
<linearGradient id="pg2" x1="0" y1="0" x2="1" y2="1"><stop offset="0" stop-color="#f6a864"/><stop offset=".6" stop-color="#f4872a"/><stop offset="1" stop-color="#f47a12"/></linearGradient>
<linearGradient id="pg3" x1="0" y1="0" x2="1" y2="1"><stop offset="0" stop-color="#5adccd"/><stop offset=".6" stop-color="#2cb4a6"/><stop offset="1" stop-color="#1fa598"/></linearGradient>
<linearGradient id="pg4" x1="0" y1="0" x2="1" y2="1"><stop offset="0" stop-color="#78b6f9"/><stop offset=".6" stop-color="#4c98f3"/><stop offset="1" stop-color="#3c8cf0"/></linearGradient>
<filter id="pbl" x="-50%" y="-50%" width="200%" height="200%"><feGaussianBlur stdDeviation="1.6"/></filter>
</defs>
<text x="600" y="386.6" font-size="13.9" fill="#3c3c3c" text-anchor="middle" textLength="144.5" lengthAdjust="spacingAndGlyphs">Value Creation Process</text>
<text x="600" y="399.2" font-size="6" fill="#555" text-anchor="middle" textLength="73" lengthAdjust="spacingAndGlyphs">Enter your sub headline here</text>
<rect x="410.0" y="410.400" width="92.300" height="78.100" fill="url(#pg1)"/>
<rect x="506.0" y="410.400" width="92.300" height="78.100" fill="url(#pg2)"/>
<rect x="602.0" y="410.400" width="92.300" height="78.100" fill="url(#pg3)"/>
<rect x="698.0" y="410.400" width="92.300" height="78.100" fill="url(#pg4)"/>
<polygon points="502.0,440 514.8,450 502.0,460" fill="#fdbd12"/>
<polygon points="598.0,440 610.8,450 598.0,460" fill="#f47c14"/>
<polygon points="694.0,440 706.8,450 694.0,460" fill="#1fa598"/>
<circle cx="456.0" cy="438" r="20.600" fill="#fff" fill-opacity=".2" stroke="#fff" stroke-opacity=".3" stroke-width="1.400"/>
<circle cx="456.0" cy="439.500" r="17.500" fill="#000" opacity=".28" filter="url(#pbl)"/>
<circle cx="456.0" cy="438.200" r="16.800" fill="#fff"/>
<text x="456.0" y="442.800" font-size="13.500" font-weight="400" fill="#686868" stroke="#686868" stroke-width=".5" text-anchor="middle">01</text>
<circle cx="552.0" cy="438" r="20.600" fill="#fff" fill-opacity=".2" stroke="#fff" stroke-opacity=".3" stroke-width="1.400"/>
<circle cx="552.0" cy="439.500" r="17.500" fill="#000" opacity=".28" filter="url(#pbl)"/>
<circle cx="552.0" cy="438.200" r="16.800" fill="#fff"/>
<text x="552.0" y="442.800" font-size="13.500" font-weight="400" fill="#686868" stroke="#686868" stroke-width=".5" text-anchor="middle">02</text>
<circle cx="648.0" cy="438" r="20.600" fill="#fff" fill-opacity=".2" stroke="#fff" stroke-opacity=".3" stroke-width="1.400"/>
<circle cx="648.0" cy="439.500" r="17.500" fill="#000" opacity=".28" filter="url(#pbl)"/>
<circle cx="648.0" cy="438.200" r="16.800" fill="#fff"/>
<text x="648.0" y="442.800" font-size="13.500" font-weight="400" fill="#686868" stroke="#686868" stroke-width=".5" text-anchor="middle">03</text>
<circle cx="744.0" cy="438" r="20.600" fill="#fff" fill-opacity=".2" stroke="#fff" stroke-opacity=".3" stroke-width="1.400"/>
<circle cx="744.0" cy="439.500" r="17.500" fill="#000" opacity=".28" filter="url(#pbl)"/>
<circle cx="744.0" cy="438.200" r="16.800" fill="#fff"/>
<text x="744.0" y="442.800" font-size="13.500" font-weight="400" fill="#686868" stroke="#686868" stroke-width=".5" text-anchor="middle">04</text>
<text x="456.0" y="476.400" font-size="6.300" font-weight="700" fill="#fff" text-anchor="middle" textLength="46.7" lengthAdjust="spacingAndGlyphs">Better Decisions</text>
<text x="552.0" y="476.400" font-size="6.300" font-weight="700" fill="#fff" text-anchor="middle" textLength="41.0" lengthAdjust="spacingAndGlyphs">Better Actions</text>
<text x="648.0" y="472.2" font-size="6.300" font-weight="700" fill="#fff" text-anchor="middle" textLength="51.0" lengthAdjust="spacingAndGlyphs">Better capital and</text>
<text x="648.0" y="480.0" font-size="6.300" font-weight="700" fill="#fff" text-anchor="middle" textLength="58.5" lengthAdjust="spacingAndGlyphs">resources allocation</text>
<text x="744.0" y="472.2" font-size="6.300" font-weight="700" fill="#fff" text-anchor="middle" textLength="30.0" lengthAdjust="spacingAndGlyphs">Long term</text>
<text x="744.0" y="480.0" font-size="6.300" font-weight="700" fill="#fff" text-anchor="middle" textLength="50.0" lengthAdjust="spacingAndGlyphs">sustainable value</text>
<polygon points="666,492.300 790,492.300 790,507 666,507" fill="#1fa598"/>
<polygon points="538,492.300 661,492.300 671.500,499.650 661,507 538,507" fill="#f47a12"/>
<polygon points="410,492.300 532,492.300 542.500,499.650 532,507 410,507" fill="#fdbb0e"/>
<text x="471.0" y="501.800" font-size="5.900" font-weight="700" fill="#fff" text-anchor="middle" textLength="56" lengthAdjust="spacingAndGlyphs">Integrated Reporting</text>
<text x="600.0" y="501.800" font-size="5.900" font-weight="700" fill="#fff" text-anchor="middle" textLength="52" lengthAdjust="spacingAndGlyphs">Integrated Analysis</text>
<text x="728.4" y="501.800" font-size="5.900" font-weight="700" fill="#fff" text-anchor="middle" textLength="53" lengthAdjust="spacingAndGlyphs">Integrated Thinking</text>
<g stroke="#9a9a9a" stroke-width=".5"><line x1="533.300" y1="513" x2="533.300" y2="579"/><line x1="666" y1="513" x2="666" y2="579"/></g>
<g>
<line x1="458.2" y1="514" x2="458.2" y2="573" stroke="#d8d8d8" stroke-width=".5"/>
<text x="458.2" y="579.200" font-size="4.200" fill="#555" text-anchor="middle">0%</text>
<line x1="474.7" y1="514" x2="474.7" y2="573" stroke="#d8d8d8" stroke-width=".5"/>
<text x="474.7" y="579.200" font-size="4.200" fill="#555" text-anchor="middle">25%</text>
<line x1="491.2" y1="514" x2="491.2" y2="573" stroke="#d8d8d8" stroke-width=".5"/>
<text x="491.2" y="579.200" font-size="4.200" fill="#555" text-anchor="middle">50%</text>
<line x1="507.7" y1="514" x2="507.7" y2="573" stroke="#d8d8d8" stroke-width=".5"/>
<text x="507.7" y="579.200" font-size="4.200" fill="#555" text-anchor="middle">75%</text>
<line x1="524.2" y1="514" x2="524.2" y2="573" stroke="#d8d8d8" stroke-width=".5"/>
<text x="524.2" y="579.200" font-size="4.200" fill="#555" text-anchor="middle">100%</text>
<rect x="458.2" y="520.5" width="66.0" height="9.600" fill="#fdbb0e"/>
<rect x="458.2" y="533.3" width="49.5" height="9.600" fill="#f47a12"/>
<rect x="458.2" y="545.8" width="33.0" height="9.600" fill="#1fa598"/>
<rect x="458.2" y="558.4" width="16.5" height="9.600" fill="#3c8cf0"/>
</g>
<g>
<line x1="590.9" y1="514" x2="590.9" y2="573" stroke="#d8d8d8" stroke-width=".5"/>
<text x="590.9" y="579.200" font-size="4.200" fill="#555" text-anchor="middle">0%</text>
<line x1="607.4" y1="514" x2="607.4" y2="573" stroke="#d8d8d8" stroke-width=".5"/>
<text x="607.4" y="579.200" font-size="4.200" fill="#555" text-anchor="middle">25%</text>
<line x1="623.9" y1="514" x2="623.9" y2="573" stroke="#d8d8d8" stroke-width=".5"/>
<text x="623.9" y="579.200" font-size="4.200" fill="#555" text-anchor="middle">50%</text>
<line x1="640.4" y1="514" x2="640.4" y2="573" stroke="#d8d8d8" stroke-width=".5"/>
<text x="640.4" y="579.200" font-size="4.200" fill="#555" text-anchor="middle">75%</text>
<line x1="656.9" y1="514" x2="656.9" y2="573" stroke="#d8d8d8" stroke-width=".5"/>
<text x="656.9" y="579.200" font-size="4.200" fill="#555" text-anchor="middle">100%</text>
<rect x="590.9" y="520.5" width="66.0" height="9.600" fill="#fdbb0e"/>
<text x="542.0" y="526.8" font-size="4.500" fill="#4a4a4a" textLength="33.0" lengthAdjust="spacingAndGlyphs">Data Integration</text>
<rect x="590.9" y="533.3" width="49.5" height="9.600" fill="#f47a12"/>
<text x="542.0" y="539.6" font-size="4.500" fill="#4a4a4a" textLength="43.0" lengthAdjust="spacingAndGlyphs">dimensional Analysis</text>
<rect x="590.9" y="545.8" width="33.0" height="9.600" fill="#1fa598"/>
<text x="542.0" y="552.1" font-size="4.500" fill="#4a4a4a" textLength="27.5" lengthAdjust="spacingAndGlyphs">Interpretation</text>
<rect x="590.9" y="558.4" width="16.5" height="9.600" fill="#3c8cf0"/>
<text x="542.0" y="564.7" font-size="4.500" fill="#4a4a4a" textLength="31.5" lengthAdjust="spacingAndGlyphs">Comprehensive</text>
</g>
<g>
<line x1="723.6" y1="514" x2="723.6" y2="573" stroke="#d8d8d8" stroke-width=".5"/>
<text x="723.6" y="579.200" font-size="4.200" fill="#555" text-anchor="middle">0%</text>
<line x1="740.1" y1="514" x2="740.1" y2="573" stroke="#d8d8d8" stroke-width=".5"/>
<text x="740.1" y="579.200" font-size="4.200" fill="#555" text-anchor="middle">25%</text>
<line x1="756.6" y1="514" x2="756.6" y2="573" stroke="#d8d8d8" stroke-width=".5"/>
<text x="756.6" y="579.200" font-size="4.200" fill="#555" text-anchor="middle">50%</text>
<line x1="773.1" y1="514" x2="773.1" y2="573" stroke="#d8d8d8" stroke-width=".5"/>
<text x="773.1" y="579.200" font-size="4.200" fill="#555" text-anchor="middle">75%</text>
<line x1="789.6" y1="514" x2="789.6" y2="573" stroke="#d8d8d8" stroke-width=".5"/>
<text x="789.6" y="579.200" font-size="4.200" fill="#555" text-anchor="middle">100%</text>
<rect x="723.6" y="520.5" width="66.0" height="9.600" fill="#fdbb0e"/>
<text x="674.7" y="526.8" font-size="4.500" fill="#4a4a4a" textLength="40.5" lengthAdjust="spacingAndGlyphs">Holistic Perspective</text>
<rect x="723.6" y="533.3" width="49.5" height="9.600" fill="#f47a12"/>
<text x="674.7" y="539.6" font-size="4.500" fill="#4a4a4a" textLength="36.0" lengthAdjust="spacingAndGlyphs">Long-Term Focus</text>
<rect x="723.6" y="545.8" width="33.0" height="9.600" fill="#1fa598"/>
<text x="674.7" y="552.1" font-size="4.500" fill="#4a4a4a" textLength="24.0" lengthAdjust="spacingAndGlyphs">Stakeholder</text>
<rect x="723.6" y="558.4" width="16.5" height="9.600" fill="#3c8cf0"/>
<text x="674.7" y="564.7" font-size="4.500" fill="#4a4a4a" textLength="31.0" lengthAdjust="spacingAndGlyphs">Integration into</text>
</g>
</svg>
<!--/PROCESS-->
</div>

<!-- CHALLENGES SLIDE -->
<div class="shadow" style="left:819px;top:597px;width:381px;height:203px;box-shadow:0 3px 8px rgba(0,0,0,.09)"></div>
<div class="slide" id="s-challenges" style="left:819px;top:597px;width:381px;height:203px">
<!--CHALLENGES-->
<svg width="381" height="203" viewBox="819 597 381 203">
<defs><linearGradient id="ht0" x1="0" y1="0" x2="1" y2="0"><stop offset="0" stop-color="#c4960b"/><stop offset=".75" stop-color="#fdbe10"/></linearGradient><linearGradient id="hb0" x1="0" y1="0" x2="1" y2="0"><stop offset="0" stop-color="#fdc32a"/><stop offset="1" stop-color="#fdcd44"/></linearGradient><linearGradient id="ht1" x1="0" y1="0" x2="1" y2="0"><stop offset="0" stop-color="#c5620e"/><stop offset=".75" stop-color="#f47c14"/></linearGradient><linearGradient id="hb1" x1="0" y1="0" x2="1" y2="0"><stop offset="0" stop-color="#f8a55c"/><stop offset="1" stop-color="#f4801c"/></linearGradient><linearGradient id="ht2" x1="0" y1="0" x2="1" y2="0"><stop offset="0" stop-color="#16857a"/><stop offset=".75" stop-color="#1fa598"/></linearGradient><linearGradient id="hb2" x1="0" y1="0" x2="1" y2="0"><stop offset="0" stop-color="#55dccd"/><stop offset="1" stop-color="#21a89b"/></linearGradient><linearGradient id="ht3" x1="0" y1="0" x2="1" y2="0"><stop offset="0" stop-color="#2d72cc"/><stop offset=".75" stop-color="#3f90f2"/></linearGradient><linearGradient id="hb3" x1="0" y1="0" x2="1" y2="0"><stop offset="0" stop-color="#80b9f9"/><stop offset="1" stop-color="#4895f3"/></linearGradient><linearGradient id="ht4" x1="0" y1="0" x2="1" y2="0"><stop offset="0" stop-color="#560ecb"/><stop offset=".75" stop-color="#6d1bf5"/></linearGradient><linearGradient id="hb4" x1="0" y1="0" x2="1" y2="0"><stop offset="0" stop-color="#8a4af5"/><stop offset="1" stop-color="#6d1bf5"/></linearGradient><filter id="hbl" x="-20%" y="-60%" width="140%" height="240%"><feGaussianBlur stdDeviation="1.5"/></filter><filter id="hb2" x="-20%" y="-20%" width="140%" height="140%"><feGaussianBlur stdDeviation="2"/></filter></defs>
<text x="837.3" y="621" font-size="14.5" fill="#3c3c3c" textLength="167" lengthAdjust="spacingAndGlyphs">Value Creation Challenges</text>
<text x="837.3" y="635.1" font-size="6" fill="#555" textLength="75" lengthAdjust="spacingAndGlyphs">Enter your sub headline here</text>
<circle cx="928.4" cy="734.0" r="87.500" fill="none" stroke="#5a5a5a" stroke-width=".6"/>
<path d="M931.4,649.1A85,85 0 0 1 975.9,663.5L964.7,680.1A65,65 0 0 0 930.7,669.0Z" fill="#fdba0e"/>
<path d="M980.7,667.0A85,85 0 0 1 1008.3,704.9L989.5,711.8A65,65 0 0 0 968.4,682.8Z" fill="#f47c14"/>
<path d="M1010.1,710.6A85,85 0 0 1 1010.1,757.4L990.9,751.9A65,65 0 0 0 990.9,716.1Z" fill="#1fa598"/>
<path d="M1008.3,763.1A85,85 0 0 1 980.7,801.0L968.4,785.2A65,65 0 0 0 989.5,756.2Z" fill="#3f8ff2"/>
<path d="M975.9,804.5A85,85 0 0 1 931.4,818.9L930.7,799.0A65,65 0 0 0 964.7,787.9Z" fill="#6a14f0"/>
<circle cx="928.4" cy="735.0" r="64" fill="#000" opacity=".12" filter="url(#hb2)"/>
<circle cx="928.4" cy="734.0" r="63.500" fill="#f0f0f0"/>
<circle cx="928.4" cy="734.0" r="57.500" fill="#fff"/>
<g font-size="7.600" font-weight="700" fill="#3a3a3a" text-anchor="middle"><text x="928.4" y="727.100" textLength="55" lengthAdjust="spacingAndGlyphs">Value Creation</text><text x="928.4" y="737.100" textLength="41.800" lengthAdjust="spacingAndGlyphs">Challenges</text></g>
<circle cx="912.6" cy="747.400" r="2.100" fill="#fdba0e"/>
<circle cx="920.6" cy="747.400" r="2.100" fill="#f47c14"/>
<circle cx="928.4" cy="747.400" r="2.100" fill="#1fa598"/>
<circle cx="936.4" cy="747.400" r="2.100" fill="#3f8ff2"/>
<circle cx="944.2" cy="747.400" r="2.100" fill="#6a14f0"/>
<g>
<line x1="953.6" y1="664.3" x2="1009.5" y2="664.3" stroke="#9a9a9a" stroke-width=".7"/><circle cx="953.6" cy="664.3" r=".8" fill="#5a6a8a"/>
<rect x="1025.5" y="662.2" width="134.3" height="18.8" rx="9.4" fill="#dcdcdc"/>
<rect x="1025.5" y="664.9" width="80.0" height="16.1" rx="9" fill="#000" opacity=".25" filter="url(#hbl)"/>
<rect x="1015.5" y="647.0" width="119.9" height="14.9" rx="7.4" fill="url(#ht0)"/>
<rect x="1015.5" y="661.9" width="88.5" height="19.1" rx="9.6" fill="url(#hb0)"/>
<circle cx="1025.5" cy="664.0" r="17.600" fill="#fff" opacity=".85"/>
<circle cx="1025.5" cy="664.0" r="16.900" fill="#fdba0e"/>
<text x="1048.9" y="656.4" font-size="5.900" fill="#fff" textLength="48.9" lengthAdjust="spacingAndGlyphs">Waste Duplication</text>
<text x="1048.9" y="672.9" font-size="4.400" fill="#fff" textLength="33.6" lengthAdjust="spacingAndGlyphs">Percentage 40%</text>
</g>
<g>
<line x1="995.0" y1="699.3" x2="1043.1" y2="699.3" stroke="#9a9a9a" stroke-width=".7"/><circle cx="995.0" cy="699.3" r=".8" fill="#5a6a8a"/>
<rect x="1059.1" y="697.2" width="134.7" height="18.8" rx="9.4" fill="#dcdcdc"/>
<rect x="1059.1" y="699.9" width="79.4" height="16.1" rx="9" fill="#000" opacity=".25" filter="url(#hbl)"/>
<rect x="1049.1" y="682.0" width="119.9" height="14.9" rx="7.4" fill="url(#ht1)"/>
<rect x="1049.1" y="696.9" width="87.9" height="19.1" rx="9.6" fill="url(#hb1)"/>
<circle cx="1059.1" cy="699.0" r="17.600" fill="#fff" opacity=".85"/>
<circle cx="1059.1" cy="699.0" r="16.900" fill="#f47c14"/>
<text x="1084.6" y="691.4" font-size="5.900" fill="#fff" textLength="52.0" lengthAdjust="spacingAndGlyphs">Economies of scale</text>
<text x="1084.6" y="707.9" font-size="4.400" fill="#fff" textLength="33.6" lengthAdjust="spacingAndGlyphs">Percentage 55%</text>
</g>
<g>
<line x1="1004.4" y1="734.3" x2="1076.9" y2="734.3" stroke="#9a9a9a" stroke-width=".7"/><circle cx="1004.4" cy="734.3" r=".8" fill="#5a6a8a"/>
<rect x="1092.9" y="732.2" width="137.1" height="18.8" rx="9.4" fill="#dcdcdc"/>
<rect x="1092.9" y="734.9" width="96.6" height="16.1" rx="9" fill="#000" opacity=".25" filter="url(#hbl)"/>
<rect x="1082.9" y="717.0" width="132.1" height="14.9" rx="7.4" fill="url(#ht2)"/>
<rect x="1082.9" y="731.9" width="105.1" height="19.1" rx="9.6" fill="url(#hb2)"/>
<circle cx="1092.9" cy="734.0" r="17.600" fill="#fff" opacity=".85"/>
<circle cx="1092.9" cy="734.0" r="16.900" fill="#1fa598"/>
<text x="1116.5" y="726.4" font-size="5.900" fill="#fff" textLength="58.5" lengthAdjust="spacingAndGlyphs">Operating Efficiencies</text>
<text x="1116.5" y="742.9" font-size="4.400" fill="#fff" textLength="33.6" lengthAdjust="spacingAndGlyphs">Percentage 68%</text>
</g>
<g>
<line x1="995.0" y1="769.3" x2="1043.1" y2="769.3" stroke="#9a9a9a" stroke-width=".7"/><circle cx="995.0" cy="769.3" r=".8" fill="#5a6a8a"/>
<rect x="1059.1" y="767.2" width="134.7" height="18.8" rx="9.4" fill="#dcdcdc"/>
<rect x="1059.1" y="769.9" width="116.3" height="16.1" rx="9" fill="#000" opacity=".25" filter="url(#hbl)"/>
<rect x="1049.1" y="752.0" width="119.9" height="14.9" rx="7.4" fill="url(#ht3)"/>
<rect x="1049.1" y="766.9" width="124.8" height="19.1" rx="9.6" fill="url(#hb3)"/>
<circle cx="1059.1" cy="769.0" r="17.600" fill="#fff" opacity=".85"/>
<circle cx="1059.1" cy="769.0" r="16.900" fill="#3f8ff2"/>
<text x="1084.6" y="761.4" font-size="5.900" fill="#fff" textLength="38.5" lengthAdjust="spacingAndGlyphs">Best Practices</text>
<text x="1084.6" y="777.9" font-size="4.400" fill="#fff" textLength="33.6" lengthAdjust="spacingAndGlyphs">Percentage 79%</text>
</g>
<g>
<line x1="953.6" y1="804.3" x2="1009.5" y2="804.3" stroke="#9a9a9a" stroke-width=".7"/><circle cx="953.6" cy="804.3" r=".8" fill="#5a6a8a"/>
<rect x="1025.5" y="802.2" width="134.3" height="18.8" rx="9.4" fill="#dcdcdc"/>
<rect x="1025.5" y="804.9" width="86.0" height="16.1" rx="9" fill="#000" opacity=".25" filter="url(#hbl)"/>
<rect x="1015.5" y="787.0" width="119.9" height="14.9" rx="7.4" fill="url(#ht4)"/>
<rect x="1015.5" y="801.9" width="94.5" height="19.1" rx="9.6" fill="url(#hb4)"/>
<circle cx="1025.5" cy="804.0" r="17.600" fill="#fff" opacity=".85"/>
<circle cx="1025.5" cy="804.0" r="16.900" fill="#6a14f0"/>
<text x="1048.9" y="796.4" font-size="5.900" fill="#fff" textLength="58.0" lengthAdjust="spacingAndGlyphs">Process Improvement</text>
<text x="1048.9" y="812.9" font-size="4.400" fill="#fff" textLength="33.6" lengthAdjust="spacingAndGlyphs">Percentage 85%</text>
</g>
<g fill="none" stroke="#fff" stroke-width=".7" stroke-linecap="round" stroke-linejoin="round">
<path d="M1017.5,658.0h11M1018.5,658.0l1,13h7l.6-7M1021.0,658.0v-1.800h4v1.800M1021.5,660.5v8M1024.0,660.5v8M1026.5,660.5v4"/>
<circle cx="1030.0" cy="668.5" r="3.300"/><path d="M1028.5,668.5l1.200,1.200l2-2.200"/>
<path d="M1059.1,691.5v14M1056.1,706.0h6M1052.1,693.5h14M1052.1,693.5l-3,6.500h6zM1066.1,693.5l-3,6.500h6z"/>
<path d="M1049.1,700.0a3,2.200 0 0 0 6,0M1063.1,700.0a3,2.200 0 0 0 6,0"/><circle cx="1059.1" cy="691.5" r="1"/>
<path d="M1084.9,732.0l5-5l3,2.500l6-6.500M1096.4,723.0h2.600v2.600"/>
<path d="M1090.9,736.0v-5M1094.9,736.0v-7.500M1098.9,736.0v-10"/>
<circle cx="1086.9" cy="739.0" r="3.600"/><circle cx="1093.9" cy="739.5" r="4.300"/><circle cx="1099.9" cy="740.0" r="3"/><path d="M1092.1,739.5l1.300,1.300l2.200-2.400"/>
<path d="M1059.1,760.5L1065.1,763.0L1067.6,769.0L1065.1,775.0L1059.1,777.5L1053.1,775.0L1050.6,769.0L1053.1,763.0Z"/>
<circle cx="1059.1" cy="760.5" r="1.300" fill="#3f8ff2"/>
<circle cx="1065.1" cy="763.0" r="1.300" fill="#3f8ff2"/>
<circle cx="1067.6" cy="769.0" r="1.300" fill="#3f8ff2"/>
<circle cx="1065.1" cy="775.0" r="1.300" fill="#3f8ff2"/>
<circle cx="1059.1" cy="777.5" r="1.300" fill="#3f8ff2"/>
<circle cx="1053.1" cy="775.0" r="1.300" fill="#3f8ff2"/>
<circle cx="1050.6" cy="769.0" r="1.300" fill="#3f8ff2"/>
<circle cx="1053.1" cy="763.0" r="1.300" fill="#3f8ff2"/>
<path d="M1059.1,764.2L1060.3,767.3L1063.7,767.5L1061.1,769.6L1061.9,772.9L1059.1,771.1L1056.3,772.9L1057.1,769.6L1054.5,767.5L1057.9,767.3Z"/>
<path d="M1056.1,777.5l-1.500,3.500M1062.1,777.5l1.500,3.500"/>
<path d="M1017.5,797.0l3-3l2.500,2l4-4.500M1029.5,795.0l2-3.500l2,3.500z"/>
</g>
</svg>
<!--/CHALLENGES-->
</div>

<!-- CONCEPT SLIDE -->
<div class="shadow" style="left:101px;top:504px;width:415px;height:234px;box-shadow:0 34px 80px rgba(0,0,0,.17),-8px 9px 24px rgba(0,0,0,.09),5px 3px 14px rgba(0,0,0,.09)"></div>
<div class="slide" id="s-concept" style="left:101px;top:504px;width:415px;height:234px">
<!--CONCEPT-->
<svg width="415" height="234" viewBox="101 504 415 234">
<defs>
<linearGradient id="cga" x1="0" y1="0" x2="0" y2="1"><stop offset="0" stop-color="#fafafa"/><stop offset="1" stop-color="#d4d7da"/></linearGradient>
<linearGradient id="cgb" x1="0" y1="1" x2="0" y2="0"><stop offset="0" stop-color="#fafafa"/><stop offset="1" stop-color="#d4d7da"/></linearGradient>
<linearGradient id="cgo" x1="0" y1="0" x2="0" y2="1"><stop offset="0" stop-color="#f5a150"/><stop offset="1" stop-color="#f59a42"/></linearGradient>
<filter id="cbl" x="-10%" y="-50%" width="120%" height="220%"><feGaussianBlur stdDeviation="1.3"/></filter>
</defs>
<text x="308.4" y="527.4" font-size="14" fill="#3c3c3c" text-anchor="middle" textLength="144.8" lengthAdjust="spacingAndGlyphs">Value Creation Concept</text>
<text x="308.4" y="540" font-size="6" fill="#555" text-anchor="middle" textLength="72" lengthAdjust="spacingAndGlyphs">Enter your sub headline here</text>
<!-- pyramid tiers -->
<polygon points="308.4,552.2 346.7,605.6 270.6,605.6" fill="#fdc42e"/>
<polygon points="267.800,610 349.400,610 388,663.200 230.300,663.200" fill="url(#cgo)"/>
<polygon points="227.500,667.800 390.700,667.800 430,722 188,722" fill="#3fcfc0"/>
<!-- connector lines -->
<g stroke="#666" stroke-width=".5" fill="none">
<line x1="236.5" y1="578.7" x2="281" y2="578.7"/><line x1="380.8" y1="578.7" x2="336" y2="578.7"/>
<path d="M195,660.500v12.500h34"/><path d="M422.500,658v14.700h-27"/>
<line x1="278" y1="673" x2="395" y2="673" opacity=".5"/>
</g>
<polygon points="283,578.7 280,577.3 280,580.1" fill="#333"/><polygon points="334,578.7 337,577.3 337,580.1" fill="#333"/>
<circle cx="195" cy="660.500" r=".9" fill="#333"/>
<!-- yellow pills -->
<rect x="118.800" y="569.800" width="117.700" height="17.800" rx="8.900" fill="#fdb90d"/>
<rect x="380.800" y="569.800" width="117.700" height="17.800" rx="8.900" fill="#fdb90d"/>
<!-- pill shadows on pyramid -->
<g filter="url(#cbl)" fill="#b8570a" opacity=".45">
<rect x="262" y="618" width="36" height="17" rx="8"/><rect x="320" y="618" width="36" height="17" rx="8"/>
<rect x="240" y="643" width="30" height="17" rx="8"/><rect x="347" y="643" width="32" height="17" rx="8"/>
</g>
<!-- white guide lines -->
<g stroke="#fff" stroke-width=".6" fill="none" opacity=".85">
<line x1="299" y1="612" x2="299" y2="648.500"/><line x1="318.300" y1="612" x2="318.300" y2="648.500"/>
<line x1="270.600" y1="648.500" x2="344" y2="648.500"/>
</g>
<polygon points="346,648.500 343,647.200 343,649.800" fill="#fff"/>
<!-- orange pills -->
<g fill="#f47c14">
<rect x="146.200" y="615.600" width="152.200" height="17.900" rx="8.950"/>
<rect x="319" y="615.600" width="152.400" height="17.900" rx="8.950"/>
<rect x="118.700" y="640.300" width="152.200" height="17.800" rx="8.900"/>
<rect x="345.700" y="640.300" width="152.800" height="17.800" rx="8.900"/>
</g>
<!-- teal boxes -->
<rect x="118.900" y="681.200" width="380" height="38.100" rx="5" fill="#35b8ab"/>
<path d="M123.900,681.200h118.100v38.100h-118.100a5,5 0 0 1 -5-5v-28.100a5,5 0 0 1 5-5z" fill="#1fa79a"/>
<rect x="247.200" y="681.200" width="123.400" height="38.100" fill="#1fa79a"/>
<path d="M375.200,681.200h118.700a5,5 0 0 1 5,5v28.100a5,5 0 0 1 -5,5h-118.700z" fill="#1fa79a"/>
<g stroke="#7fe0d5" stroke-width=".4" opacity=".7"><line x1="242.300" y1="681.200" x2="242.300" y2="719.300"/><line x1="247" y1="681.200" x2="247" y2="719.300"/><line x1="370.800" y1="681.200" x2="370.800" y2="719.300"/><line x1="375" y1="681.200" x2="375" y2="719.300"/><line x1="247" y1="717.300" x2="370.800" y2="717.300"/></g>
<polygon points="256,689.500 253.300,692 253.300,709.500 256,712" fill="#157f75"/><polygon points="361,689.500 363.700,692 363.700,709.500 361,712" fill="#157f75"/>
<!-- value-creation cycle tag -->
<rect x="229" y="670.300" width="49.300" height="5.900" fill="#fff"/>
<text x="253.600" y="674.900" font-size="3.900" fill="#444" text-anchor="middle" textLength="41" lengthAdjust="spacingAndGlyphs">Value-creation cycle</text>
<!-- arrows -->
<ellipse cx="294.800" cy="608.300" rx="8" ry="1.800" fill="#9aa0a6" opacity=".7"/>
<polygon points="294.800,585.800 305,595.300 299.800,595.300 299.800,608.800 289.800,608.800 289.800,595.300 284.600,595.300" fill="url(#cga)"/>
<polygon points="322.300,610.600 332.500,601 327.300,601 327.300,587.200 317.300,587.200 317.300,601 312.100,601" fill="url(#cgb)"/>
<rect x="316.300" y="586.600" width="12" height="1.600" fill="#8a8f94" opacity=".7"/>
<ellipse cx="308.200" cy="676.400" rx="8" ry="1.800" fill="#157f75" opacity=".8"/>
<polygon points="308.200,653.300 318.400,662.800 313.200,662.800 313.200,676.600 303.200,676.600 303.200,662.800 298,662.800" fill="url(#cga)"/>
<polygon points="233.300,700.800 240.300,695.600 240.300,698.300 255.800,698.300 255.800,703.300 240.300,703.300 240.300,706" fill="#f2f2f2"/>
<polygon points="384.300,700.500 377.300,695.300 377.300,698 361,698 361,703 377.300,703 377.300,705.700" fill="#f2f2f2"/>
<g font-size="3.800" fill="#666" text-anchor="middle">
<text transform="translate(296.100,601) rotate(-90)">Goal</text>
<text transform="translate(321,596) rotate(90)">Output</text>
<text transform="translate(309.500,668.500) rotate(-90)">Support</text>
</g>
<!-- labels -->
<g font-size="5.700" font-weight="700" fill="#fff" text-anchor="middle">
<text x="177.600" y="580.700" textLength="33" lengthAdjust="spacingAndGlyphs">Stakeholder</text>
<text x="439.600" y="580.700" textLength="33" lengthAdjust="spacingAndGlyphs">Stakeholder</text>
<text x="222.300" y="626.600" textLength="35" lengthAdjust="spacingAndGlyphs">Prioritization</text>
<text x="395.200" y="626.600" textLength="49" lengthAdjust="spacingAndGlyphs">Decision - Making</text>
<text x="194.800" y="651.300" textLength="24.500" lengthAdjust="spacingAndGlyphs">Planning</text>
<text x="422.100" y="651.300" textLength="43" lengthAdjust="spacingAndGlyphs">Implementation</text>
<text x="308.400" y="577" font-size="6.200" textLength="17" lengthAdjust="spacingAndGlyphs">Vision</text>
<text x="180" y="689.800" font-size="5.900">Skill</text>
<text x="308.400" y="689.800" font-size="5.900">Core</text>
<text x="436.600" y="689.800" font-size="5.900">Asset</text>
</g>
<g font-size="4.300" fill="#fff">
<text x="162.300" y="698.800">Taking a broad view</text><text x="162.300" y="704.300">Abstracting</text><text x="162.300" y="709.800">Hypothesis testing</text><text x="162.300" y="715.300">storytelling</text>
<text x="289.900" y="698.800">My Values</text><text x="289.900" y="704.300">Proactive</text><text x="289.900" y="709.800">Positive</text><text x="289.900" y="715.300">Sincere</text>
<text x="418.300" y="698.800">Healthy Life long</text><text x="418.300" y="704.300">Learning</text><text x="418.300" y="709.800">experience Human</text><text x="418.300" y="715.300">Network</text>
</g>
<g fill="#fff">
<circle cx="155" cy="697.400" r=".55"/><circle cx="155" cy="702.900" r=".55"/><circle cx="155" cy="708.400" r=".55"/><circle cx="155" cy="713.900" r=".55"/>
<circle cx="283.300" cy="697.400" r=".55"/><circle cx="283.300" cy="702.900" r=".55"/><circle cx="283.300" cy="708.400" r=".55"/><circle cx="283.300" cy="713.900" r=".55"/>
<circle cx="411.300" cy="697.400" r=".55"/><circle cx="411.300" cy="708.400" r=".55"/>
</g>
</svg>

<!--/CONCEPT-->
</div>

</div>
</body>
</html>
